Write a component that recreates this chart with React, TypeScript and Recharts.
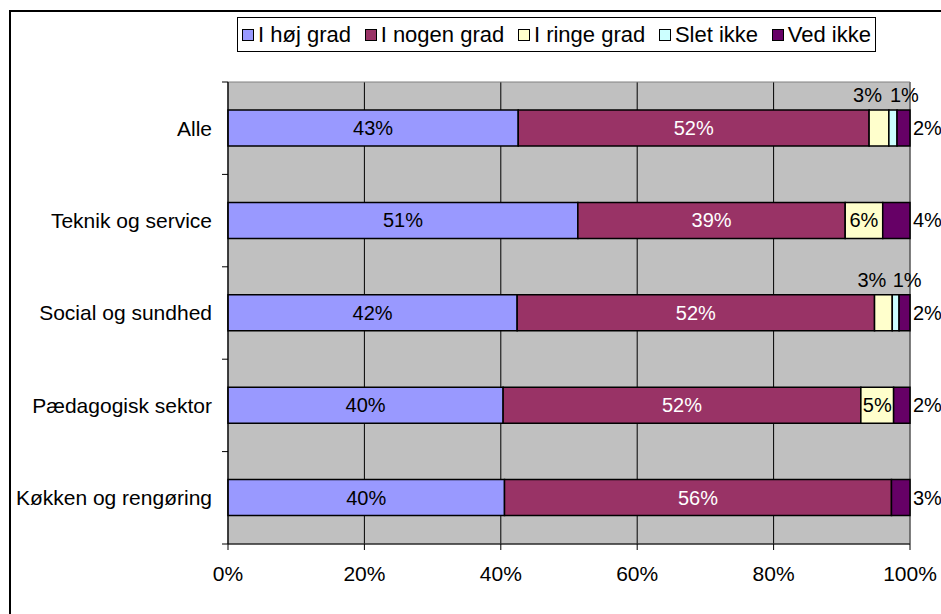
import React from 'react';
import { BarChart, Bar, XAxis, YAxis, CartesianGrid, LabelList, ReferenceArea } from 'recharts';

// ---- data ----
const categories = ['Alle', 'Teknik og service', 'Social og sundhed', 'Pædagogisk sektor', 'Køkken og rengøring'];
const hoj = [42.6, 51.3, 42.4, 40.3, 40.3];
const nogen = [51.5, 39.2, 52.4, 52.4, 56.4];
const ringe = [2.9, 5.5, 2.6, 4.8, 0];
const slet = [1.2, 0, 1.0, 0, 0];
const vedIkke = [1.9, 4.0, 1.6, 2.4, 2.7];
const xTicks = [0, 0.2, 0.4, 0.6, 0.8, 1];

// ---- layout ----
const W = 941;
const H = 614;
const X_AXIS_H = 30;
const M = { top: 82, right: 31, bottom: 70 - X_AXIS_H, left: 0 };
const Y_AXIS_W = 228;
const PLOT_LEFT = M.left + Y_AXIS_W;
const PLOT_H = H - M.top - M.bottom - X_AXIS_H;
const FONT = '"Liberation Sans", Arial, sans-serif';
const TICK_FS = 21;
const LABEL_FS = 20;
const LEGEND_FS = 22;

const data = categories.map((name, i) => ({
  name,
  hoj: hoj[i],
  nogen: nogen[i],
  ringe: ringe[i],
  slet: slet[i],
  vedIkke: vedIkke[i],
}));

type Mode = 'center' | 'smallLeft' | 'smallRight' | 'outside';
const series: { key: string; name: string; color: string; values: number[]; mode: Mode; text: string }[] = [
  { key: 'hoj', name: 'I høj grad', color: '#9999FF', values: hoj, mode: 'center', text: '#000' },
  { key: 'nogen', name: 'I nogen grad', color: '#993366', values: nogen, mode: 'center', text: '#fff' },
  { key: 'ringe', name: 'I ringe grad', color: '#FFFFCC', values: ringe, mode: 'smallLeft', text: '#000' },
  { key: 'slet', name: 'Slet ikke', color: '#CCFFFF', values: slet, mode: 'smallRight', text: '#000' },
  { key: 'vedIkke', name: 'Ved ikke', color: '#660066', values: vedIkke, mode: 'outside', text: '#000' },
];

const makeLabel = (s: (typeof series)[number]) => (props: any) => {
  const x = Number(props.x);
  const y = Number(props.y);
  const width = Number(props.width);
  const height = Number(props.height);
  let v: any = props.value;
  if (Array.isArray(v)) v = v[1] - v[0];
  v = Number(v);
  if (!v || !isFinite(v)) return null;
  const txt = `${Math.round(v)}%`;
  const cx = x + width / 2;
  const cy = y + height / 2;
  let tx = cx;
  let ty = cy;
  let anchor: 'middle' | 'start' = 'middle';
  if (s.mode === 'outside') {
    tx = x + width + 3;
    anchor = 'start';
  } else if (s.mode === 'smallLeft' && width < 25) {
    tx = cx - 11.5;
    ty = y - 15;
  } else if (s.mode === 'smallRight') {
    tx = cx + 11.5;
    ty = y - 15;
  }
  return (
    <text x={tx} y={ty} dy="0.35em" textAnchor={anchor} fill={s.text} fontSize={LABEL_FS} fontFamily={FONT}>
      {txt}
    </text>
  );
};

const CatTick = (props: any) => {
  const { y, payload, index } = props;
  const band = PLOT_H / categories.length;
  return (
    <g>
      <text x={PLOT_LEFT - 16} y={y} dy="0.35em" textAnchor="end" fill="#000" fontSize={TICK_FS} fontFamily={FONT}>
        {payload.value}
      </text>
      <line x1={PLOT_LEFT - 6} x2={PLOT_LEFT} y1={y - band / 2} y2={y - band / 2} stroke="#000" strokeWidth={1} />
      {index === categories.length - 1 && (
        <line x1={PLOT_LEFT - 6} x2={PLOT_LEFT} y1={y + band / 2} y2={y + band / 2} stroke="#000" strokeWidth={1} />
      )}
    </g>
  );
};

const LegendBox = () => (
  <div
    style={{
      position: 'absolute',
      left: 237,
      top: 17,
      width: 639,
      height: 35,
      boxSizing: 'border-box',
      border: '1px solid #000',
      background: '#fff',
      display: 'flex',
      alignItems: 'center',
      justifyContent: 'space-between',
      paddingLeft: 4,
      paddingRight: 4,
      fontFamily: FONT,
      fontSize: LEGEND_FS,
      color: '#000',
      whiteSpace: 'nowrap',
    }}
  >
    {series.map((s) => (
      <div key={s.key} style={{ display: 'flex', alignItems: 'center' }}>
        <div
          style={{
            width: 12,
            height: 12,
            boxSizing: 'border-box',
            border: '1px solid #000',
            background: s.color,
            marginRight: 4,
          }}
        />
        <span>{s.name}</span>
      </div>
    ))}
  </div>
);

export default function App() {
  return (
    <div
      style={{
        position: 'fixed',
        left: 0,
        top: 0,
        width: W,
        height: H,
        overflow: 'hidden',
        background: '#fff',
      }}
    >
      <div
        style={{
          position: 'absolute',
          left: 9,
          top: 10,
          width: W,
          height: H,
          borderLeft: '2px solid #000',
          borderTop: '2px solid #000',
        }}
      />
      <div style={{ position: 'absolute', left: 0, top: 0 }}>
        <BarChart
          width={W}
          height={H}
          data={data}
          layout="vertical"
          stackOffset="expand"
          margin={M}
          barSize={36}
        >
          <CartesianGrid horizontal={false} vertical={true} stroke="#000" fill="#C0C0C0" />
          <ReferenceArea x1={0} x2={1} fill="none" stroke="#808080" strokeWidth={1} />
          <XAxis
            type="number"
            domain={[0, 1]}
            ticks={xTicks}
            height={X_AXIS_H}
            tickFormatter={(v: number) => `${Math.round(v * 100)}%`}
            tick={{ fill: '#000', fontSize: TICK_FS, fontFamily: FONT }}
            axisLine={{ stroke: '#000' }}
            tickLine={{ stroke: '#000' }}
            tickSize={6}
            tickMargin={16}
            interval={0}
          />
          <YAxis
            type="category"
            dataKey="name"
            width={Y_AXIS_W}
            axisLine={{ stroke: '#000' }}
            tickLine={false}
            tick={<CatTick />}
            interval={0}
          />
          {series.map((s) => (
            <Bar
              key={s.key}
              dataKey={s.key}
              name={s.name}
              stackId="a"
              fill={s.color}
              stroke="#000"
              strokeWidth={1.5}
              isAnimationActive={false}
            >
              <LabelList dataKey={s.key} content={makeLabel(s)} />
            </Bar>
          ))}
        </BarChart>
      </div>
      <LegendBox />
    </div>
  );
}
